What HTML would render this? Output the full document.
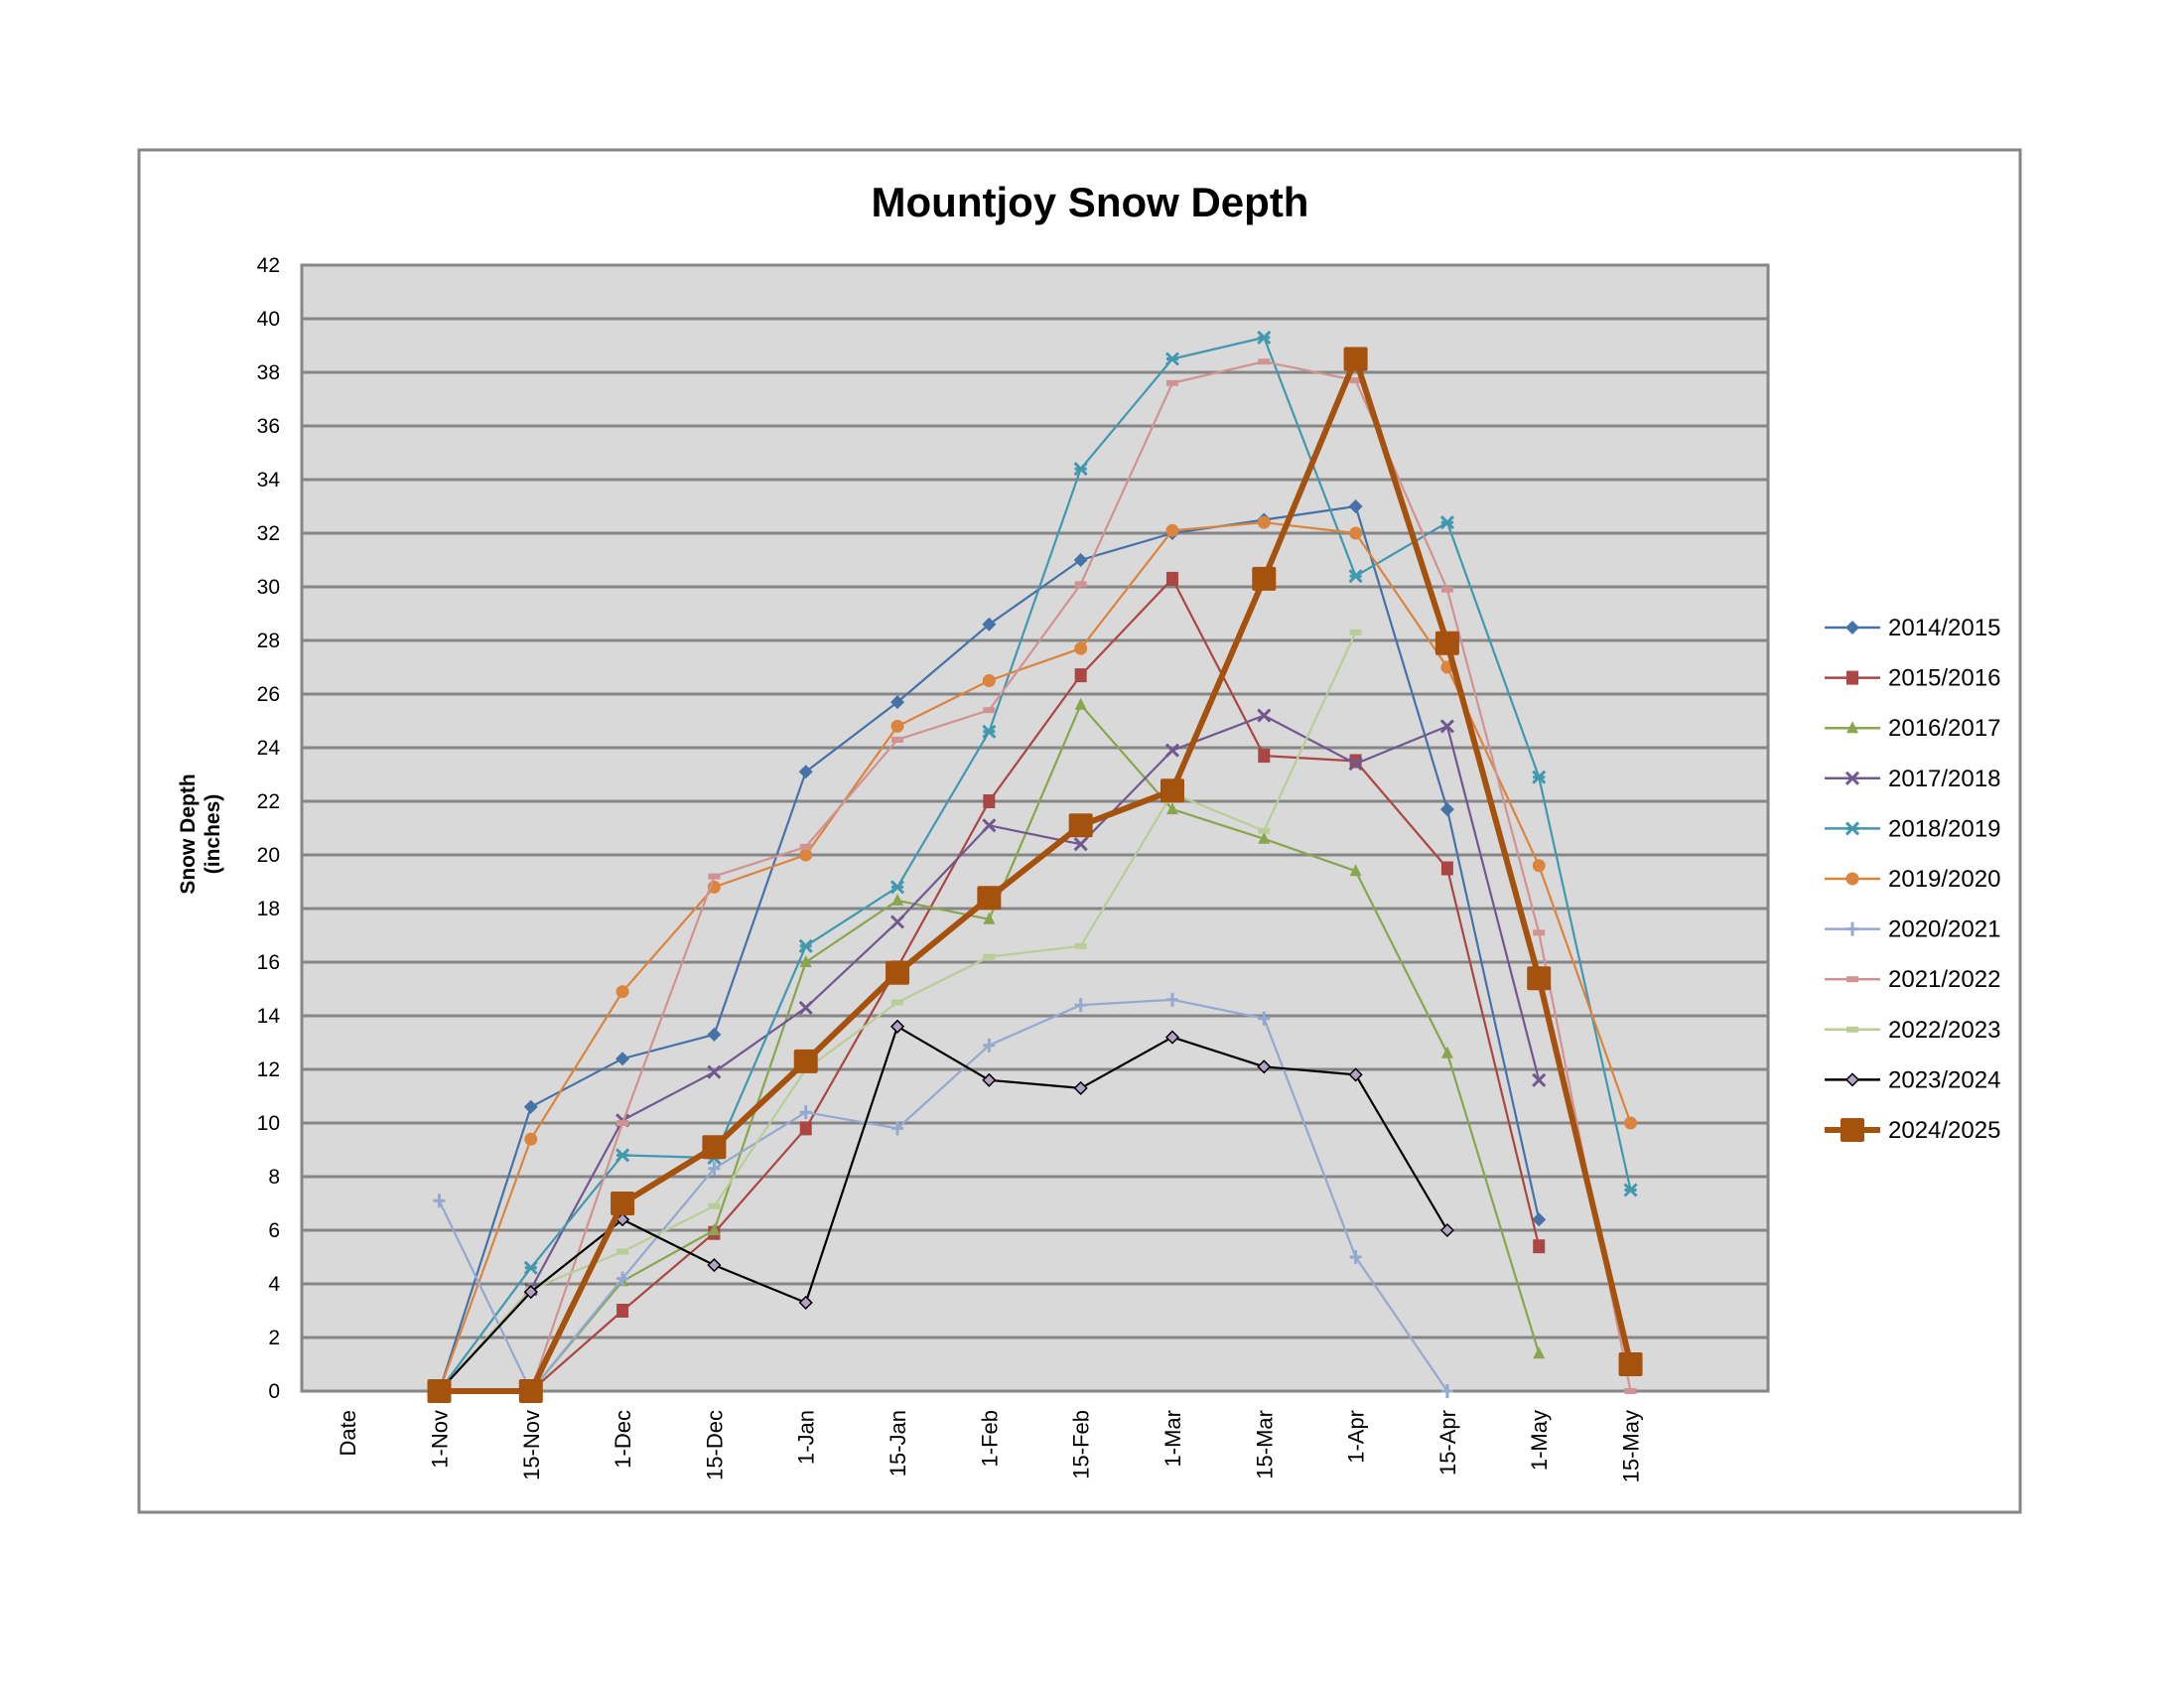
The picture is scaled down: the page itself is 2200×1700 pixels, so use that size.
<!DOCTYPE html>
<html><head><meta charset="utf-8"><style>
html,body{margin:0;padding:0;background:#fff;}
svg{display:block;font-family:"Liberation Sans",sans-serif;}
</style></head><body>
<svg id="chart" width="2200" height="1700" viewBox="0 0 2200 1700" xmlns="http://www.w3.org/2000/svg">
<rect x="140" y="151" width="1895" height="1372" fill="#fff" stroke="#868686" stroke-width="3"/>
<text x="1098" y="218" text-anchor="middle" font-size="42" font-weight="bold">Mountjoy Snow Depth</text>
<text transform="translate(196,840) rotate(-90)" text-anchor="middle" font-size="21" font-weight="bold"><tspan x="0" y="0">Snow Depth</tspan><tspan x="0" y="25">(inches)</tspan></text>
<g id="plot"></g>
<g id="legend"></g>
</svg>
<script>
const categories = ["Date","1-Nov","15-Nov","1-Dec","15-Dec","1-Jan","15-Jan","1-Feb","15-Feb","1-Mar","15-Mar","1-Apr","15-Apr","1-May","15-May"];
const yTicks = [0,2,4,6,8,10,12,14,16,18,20,22,24,26,28,30,32,34,36,38,40,42];
const seriesNames = ["2014/2015","2015/2016","2016/2017","2017/2018","2018/2019","2019/2020","2020/2021","2021/2022","2022/2023","2023/2024","2024/2025"];
const s2014 = [null,0,10.6,12.4,13.3,23.1,25.7,28.6,31.0,32.0,32.5,33.0,21.7,6.4,null];
const s2015 = [null,0,0,3.0,5.9,9.8,15.8,22.0,26.7,30.3,23.7,23.5,19.5,5.4,null];
const s2016 = [null,0,0,4.1,6.0,16.0,18.3,17.6,25.6,21.7,20.6,19.4,12.6,1.4,null];
const s2017 = [null,0,3.8,10.1,11.9,14.3,17.5,21.1,20.4,23.9,25.2,23.4,24.8,11.6,null];
const s2018 = [null,0,4.6,8.8,8.7,16.6,18.8,24.6,34.4,38.5,39.3,30.4,32.4,22.9,7.5];
const s2019 = [null,0,9.4,14.9,18.8,20.0,24.8,26.5,27.7,32.1,32.4,32.0,27.0,19.6,10.0];
const s2020 = [null,7.1,0,4.2,8.3,10.4,9.8,12.9,14.4,14.6,13.9,5.0,0,null,null];
const s2021 = [null,0,0,10.0,19.2,20.3,24.3,25.4,30.1,37.6,38.4,37.7,29.9,17.1,0];
const s2022 = [null,0,3.8,5.2,6.9,12.0,14.5,16.2,16.6,22.3,20.9,28.3,null,null,null];
const s2023 = [null,0,3.7,6.4,4.7,3.3,13.6,11.6,11.3,13.2,12.1,11.8,6.0,null,null];
const s2024 = [null,0,0,7.0,9.1,12.3,15.6,18.4,21.1,22.4,30.3,38.5,27.9,15.4,1.0];
const allSeries = [s2014,s2015,s2016,s2017,s2018,s2019,s2020,s2021,s2022,s2023,s2024];
const colors = ["#4572A7","#AA4643","#89A54E","#71588F","#4198AF","#DB843D","#93A9CF","#D19392","#B9CD96","#000000","#A5520E"];
const markers = ["diamond","square","triangle","x","star","circle","plus","dash","dash","diamond2","bigsquare"];

const NS="http://www.w3.org/2000/svg";
const PL=304, PR=1781, PT=267, PB=1401, YMAX=42, NCAT=16;
const xs = i => PL + (PR-PL)/NCAT*(i+0.5);
const ys = v => PB - (PB-PT)*v/YMAX;
function mk(tag,attrs,parent){const e=document.createElementNS(NS,tag);for(const k in attrs)e.setAttribute(k,attrs[k]);parent.appendChild(e);return e;}
const plot=document.getElementById('plot');
const bg=mk('rect',{x:PL,y:PT,width:PR-PL,height:PB-PT,fill:'#d9d9d9',stroke:'#868686','stroke-width':3},plot);


yTicks.forEach(t=>{
  const g=mk('line',{x1:PL,x2:PR,y1:ys(t),y2:ys(t),stroke:'#868686','stroke-width':3},plot);
  
  
  const l=mk('text',{x:282,y:ys(t)+7,'text-anchor':'end','font-size':21},plot);
  l.textContent=t;
  
  
});
categories.forEach((c,i)=>{
  const l=mk('text',{transform:`translate(${xs(i)+8},1420) rotate(-90)`,'text-anchor':'end','font-size':22},plot);
  l.textContent=c;
  
  
});
function marker(type,x,y,col,parent){
  let e;
  if(type==='diamond') e=mk('path',{d:`M${x} ${y-7}L${x+7} ${y}L${x} ${y+7}L${x-7} ${y}Z`,fill:col},parent);
  else if(type==='diamond2') e=mk('path',{d:`M${x} ${y-6}L${x+6} ${y}L${x} ${y+6}L${x-6} ${y}Z`,fill:'#b3a2c7',stroke:'#000','stroke-width':1.5},parent);
  else if(type==='square') e=mk('rect',{x:x-6,y:y-7,width:12,height:14,fill:col},parent);
  else if(type==='bigsquare') e=mk('rect',{x:x-12,y:y-12,width:24,height:24,rx:2,fill:col},parent);
  else if(type==='triangle') e=mk('path',{d:`M${x} ${y-7}L${x+6} ${y+5}L${x-6} ${y+5}Z`,fill:col},parent);
  else if(type==='x') e=mk('path',{d:`M${x-6} ${y-6}L${x+6} ${y+6}M${x+6} ${y-6}L${x-6} ${y+6}`,stroke:col,'stroke-width':3},parent);
  else if(type==='star') e=mk('path',{d:`M${x-6} ${y-6}L${x+6} ${y+6}M${x+6} ${y-6}L${x-6} ${y+6}M${x-6} ${y}L${x+6} ${y}`,stroke:col,'stroke-width':3},parent);
  else if(type==='circle') e=mk('circle',{cx:x,cy:y,r:6.5,fill:col},parent);
  else if(type==='plus') e=mk('path',{d:`M${x-6} ${y}L${x+6} ${y}M${x} ${y-7}L${x} ${y+7}`,stroke:col,'stroke-width':3},parent);
  else e=mk('rect',{x:x-6,y:y-3,width:12,height:6,fill:col},parent);
  
  
}
allSeries.forEach((s,k)=>{
  const g=mk('g',{},plot);
  
  
  const sw = k===10?6:2.2;
  let d='';let pen=false;
  s.forEach((v,i)=>{ if(v===null){pen=false;return;} d+=(pen?'L':'M')+xs(i)+' '+ys(v); pen=true;});
  const p=mk('path',{d,fill:'none',stroke:colors[k],'stroke-width':sw,'stroke-linejoin':'round'},g);
  
  
  s.forEach((v,i)=>{ if(v!==null) marker(markers[k],xs(i),ys(v),colors[k],g); });
});
const lg=document.getElementById('legend');


seriesNames.forEach((n,k)=>{
  const y=632+50.6*k;
  const g=mk('g',{},lg);
  
  
  mk('line',{x1:1838,x2:1894,y1:y,y2:y,stroke:colors[k],'stroke-width':k===10?6:2.5},g);
  marker(markers[k],1866,y,colors[k],g);
  const t=mk('text',{x:1902,y:y+8,'font-size':24},g);
  t.textContent=n;
  
  
});
</script>
</body></html>
